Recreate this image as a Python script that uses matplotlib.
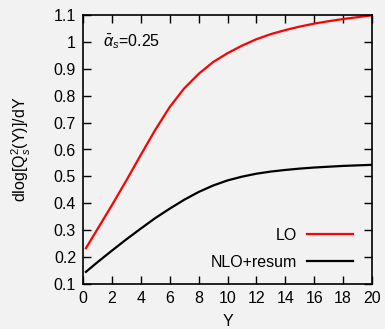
import matplotlib
matplotlib.use('Agg')
import matplotlib.pyplot as plt

plt.rcParams['font.family'] = ['Liberation Sans', 'DejaVu Sans']
plt.rcParams['mathtext.fontset'] = 'custom'
plt.rcParams['mathtext.rm'] = 'Liberation Sans'
plt.rcParams['mathtext.it'] = 'Liberation Sans:italic'

Y = [0.2, 1, 2, 3, 4, 5, 6, 7, 8, 9, 10, 11, 12, 13, 14, 15, 16, 17, 18, 19, 20]
lo = [0.233, 0.304, 0.393, 0.485, 0.58, 0.673, 0.758, 0.827, 0.881, 0.925, 0.958,
      0.986, 1.01, 1.029, 1.044, 1.057, 1.068, 1.077, 1.085, 1.092, 1.099]
nlo = [0.145, 0.181, 0.224, 0.266, 0.306, 0.345, 0.38, 0.413, 0.442, 0.466, 0.485,
       0.499, 0.51, 0.518, 0.524, 0.529, 0.533, 0.536, 0.539, 0.541, 0.543]

bg = '#f2f2f2'
fs = 11.5
fig = plt.figure(figsize=(3.85, 3.29), dpi=100, facecolor=bg)
ax = fig.add_axes([83 / 385, 1 - 284 / 329, 289 / 385, 269 / 329])
ax.set_facecolor(bg)

ax.plot(Y, lo, color='red', lw=1.6, label='LO')
ax.plot(Y, nlo, color='black', lw=1.6, label='NLO+resum')

ax.set_xlim(0, 20)
ax.set_ylim(0.1, 1.1)
ax.set_xticks(range(0, 21, 2))
ax.set_yticks([0.1, 0.2, 0.3, 0.4, 0.5, 0.6, 0.7, 0.8, 0.9, 1, 1.1])
ax.set_yticklabels(['0.1', '0.2', '0.3', '0.4', '0.5', '0.6', '0.7', '0.8', '0.9', '1', '1.1'])
ax.tick_params(direction='in', top=True, right=True, length=6, width=1,
               labelsize=fs, pad=5)
for s in ax.spines.values():
    s.set_linewidth(1.2)

ax.set_xlabel('Y', fontsize=fs, labelpad=6)
ax.set_ylabel(r'dlog[Q$_s^2$(Y)]/dY', fontsize=fs, labelpad=15)
ax.text(0.07, 0.9, r'$\bar{\alpha}_s$=0.25', transform=ax.transAxes, fontsize=fs,
        va='center')

ax.legend(loc='lower right', frameon=False, markerfirst=False, fontsize=fs,
          handlelength=2.9, handletextpad=0.6, bbox_to_anchor=(0.985, 0.0),
          labelspacing=0.75)

fig.savefig('out.png', dpi=100, facecolor=bg)
